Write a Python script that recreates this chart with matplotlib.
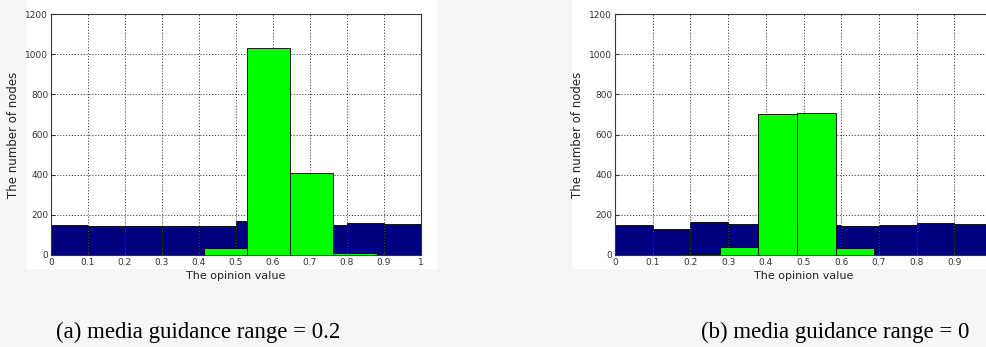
import numpy as np
import matplotlib.pyplot as plt
from matplotlib.patches import Rectangle

# opinion histograms, 10 bins on [0, 1] (blue) and 10 bins on data range (green)
blue_edges = np.linspace(0, 1, 11)
blue_a = [150, 143, 143, 143, 143, 170, 150, 150, 160, 155]
blue_b = [150, 130, 165, 155, 150, 150, 145, 150, 158, 155]

green_a_start, green_a_width = 0.414, 0.1165
green_a = [35, 1030, 410, 10]
green_b_start, green_b_width = 0.175, 0.1025
green_b = [5, 40, 700, 705, 35]

tick_labels = ['0', '0.1', '0.2', '0.3', '0.4', '0.5', '0.6', '0.7', '0.8', '0.9', '1']
captions = ['(a) media guidance range = 0.2', '(b) media guidance range = 0']

fig = plt.figure(figsize=(9.86, 3.47), dpi=100)
fig.patch.set_facecolor('#f6f6f6')

# white backgrounds of the two pasted chart images (behind the axes)
for x0, x1 in [(27, 437), (572, 986)]:
    fig.patches.append(Rectangle((x0 / 986, 1 - 269 / 347), (x1 - x0) / 986, 269 / 347,
                                 transform=fig.transFigure, facecolor='white',
                                 edgecolor='none', zorder=-10))

navy = '#000080'
lime = '#00ff00'


def draw_panel(ax, blue, g_start, g_width, green, labels):
    ax.bar(blue_edges[:-1], blue, width=np.diff(blue_edges), align='edge',
           color=navy, edgecolor='black', linewidth=0.6, zorder=2)
    g_left = g_start + g_width * np.arange(len(green))
    ax.bar(g_left, green, width=g_width, align='edge',
           color=lime, edgecolor='black', linewidth=0.6, zorder=3)
    ax.set_xlim(0, 1)
    ax.set_ylim(0, 1200)
    ax.set_xticks(np.linspace(0, 1, 11))
    ax.set_xticklabels(labels)
    ax.set_yticks(range(0, 1201, 200))
    ax.grid(True, color='#444444', linestyle=(0, (1.2, 1.8)), linewidth=0.7, zorder=4)
    ax.set_axisbelow(False)
    ax.tick_params(labelsize=6.5, length=3, direction='in', pad=2, colors='#333333')
    for s in ax.spines.values():
        s.set_color('#333333')
        s.set_linewidth(0.8)
    ax.set_xlabel('The opinion value', fontsize=8, color='#222222', labelpad=3)
    ax.set_ylabel('The number of nodes', fontsize=8.5, color='#222222', labelpad=4)


ax1 = fig.add_axes([51 / 986, 1 - 255 / 347, 370 / 986, 241 / 347])
draw_panel(ax1, blue_a, green_a_start, green_a_width, green_a, tick_labels)

# right panel is cropped at the image edge, so its last tick label is hidden
ax2 = fig.add_axes([615 / 986, 1 - 255 / 347, 377 / 986, 241 / 347])
draw_panel(ax2, blue_b, green_b_start, green_b_width, green_b, tick_labels[:-1] + [''])

fig.text(198 / 986, 1 - 332 / 347, captions[0], fontsize=16.5, family='Liberation Serif',
         ha='center', va='center')
fig.text(835 / 986, 1 - 332 / 347, captions[1], fontsize=16.5, family='Liberation Serif',
         ha='center', va='center')

fig.savefig('out.png', dpi=100, facecolor=fig.get_facecolor())
